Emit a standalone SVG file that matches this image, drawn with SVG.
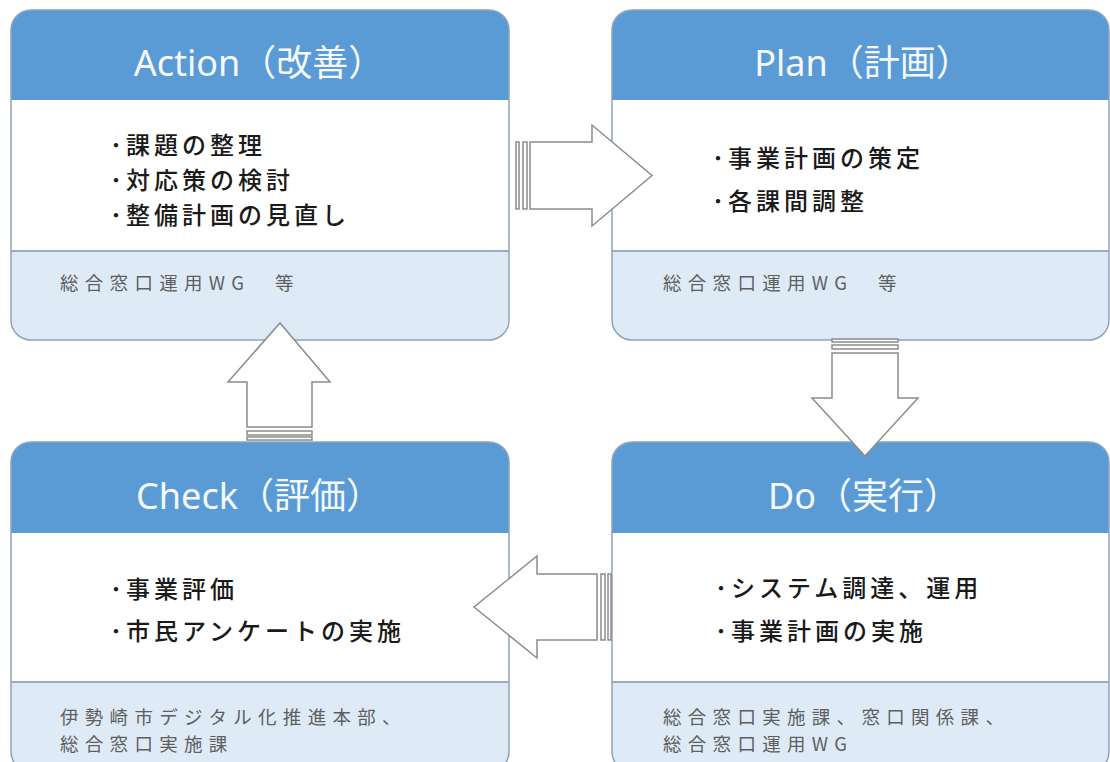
<svg xmlns="http://www.w3.org/2000/svg" width="1110" height="762" viewBox="0 0 1110 762">
  <style>
    .hdr { fill: #5B9BD5; }
    .body { fill: #FFFFFF; }
    .ftr { fill: #DEEBF7; }
    .outline { fill: none; stroke: #8FA3BA; stroke-width: 1.5; }
    .div { stroke: #7F93AC; stroke-width: 1.5; }
    .title { font-family: "Noto Sans", "Noto Sans CJK JP", sans-serif; font-size: 36px; fill: #F4FAFF; text-anchor: middle; }
    .item { font-family: "Noto Sans CJK JP", sans-serif; font-size: 24px; font-weight: 500; fill: #1A1A1A; letter-spacing: 4px; }
    .note { font-family: "Noto Sans CJK JP", sans-serif; font-size: 18.5px; fill: #5F5F5F; letter-spacing: 6.3px; }
    .arrow { fill: #FFFFFF; stroke: #8C8C8C; stroke-width: 1.5; stroke-linejoin: miter; }
  </style>
  <rect width="1110" height="762" fill="#FFFFFF"/>

  <g id="action">
    <path class="hdr" d="M11,30 a20,20 0 0 1 20,-20 h458 a20,20 0 0 1 20,20 v70 h-498 z"/>
    <rect class="body" x="11" y="100" width="498" height="151"/>
    <path class="ftr" d="M11,251 h498 v69 a20,20 0 0 1 -20,20 h-458 a20,20 0 0 1 -20,-20 z"/>
    <line class="div" x1="11" y1="251" x2="509" y2="251"/>
    <rect class="outline" x="11" y="10" width="498" height="330" rx="20"/>
    <text class="title" x="259" y="76">Action（改善）</text>
    <text class="item" x="110" y="154">･課題の整理</text>
    <text class="item" x="110" y="189">･対応策の検討</text>
    <text class="item" x="110" y="224">･整備計画の見直し</text>
    <text class="note" x="60" y="290">総合窓口運用WG　等</text>
  </g>

  <g id="plan">
    <path class="hdr" d="M612,30 a20,20 0 0 1 20,-20 h457 a20,20 0 0 1 20,20 v70 h-497 z"/>
    <rect class="body" x="612" y="100" width="497" height="151"/>
    <path class="ftr" d="M612,251 h497 v69 a20,20 0 0 1 -20,20 h-457 a20,20 0 0 1 -20,-20 z"/>
    <line class="div" x1="612" y1="251" x2="1109" y2="251"/>
    <rect class="outline" x="612" y="10" width="497" height="330" rx="20"/>
    <text class="title" x="863" y="76">Plan（計画）</text>
    <text class="item" x="712" y="167">･事業計画の策定</text>
    <text class="item" x="712" y="210">･各課間調整</text>
    <text class="note" x="663" y="290">総合窓口運用WG　等</text>
  </g>

  <g id="check">
    <path class="hdr" d="M11,462 a20,20 0 0 1 20,-20 h458 a20,20 0 0 1 20,20 v71 h-498 z"/>
    <rect class="body" x="11" y="533" width="498" height="149"/>
    <path class="ftr" d="M11,682 h498 v70 a20,20 0 0 1 -20,20 h-458 a20,20 0 0 1 -20,-20 z"/>
    <line class="div" x1="11" y1="682" x2="509" y2="682"/>
    <rect class="outline" x="11" y="442" width="498" height="330" rx="20"/>
    <text class="title" x="259" y="509">Check（評価）</text>
    <text class="item" x="110" y="598">･事業評価</text>
    <text class="item" x="110" y="640">･市民アンケートの実施</text>
    <text class="note" x="60" y="724">伊勢崎市デジタル化推進本部、</text>
    <text class="note" x="60" y="751">総合窓口実施課</text>
  </g>

  <g id="do">
    <path class="hdr" d="M612,462 a20,20 0 0 1 20,-20 h457 a20,20 0 0 1 20,20 v71 h-497 z"/>
    <rect class="body" x="612" y="533" width="497" height="149"/>
    <path class="ftr" d="M612,682 h497 v70 a20,20 0 0 1 -20,20 h-457 a20,20 0 0 1 -20,-20 z"/>
    <line class="div" x1="612" y1="682" x2="1109" y2="682"/>
    <rect class="outline" x="612" y="442" width="497" height="330" rx="20"/>
    <text class="title" x="864" y="509">Do（実行）</text>
    <text class="item" x="715" y="597">･システム調達、運用</text>
    <text class="item" x="715" y="640">･事業計画の実施</text>
    <text class="note" x="663" y="724">総合窓口実施課、窓口関係課、</text>
    <text class="note" x="663" y="751">総合窓口運用WG</text>
  </g>

  <g id="connectors">
    <!-- Action -> Plan -->
    <rect class="arrow" x="516" y="142" width="3" height="67"/>
    <rect class="arrow" x="523" y="142" width="4" height="67"/>
    <polygon class="arrow" points="530,142 592,142 592,125 652,175.5 592,226 592,209 530,209"/>
    <!-- Plan -> Do -->
    <rect class="arrow" x="832" y="339" width="66" height="3"/>
    <rect class="arrow" x="832" y="345" width="66" height="4"/>
    <polygon class="arrow" points="832,353 898,353 898,398 918,398 865,456 812,398 832,398"/>
    <!-- Do -> Check -->
    <rect class="arrow" x="608" y="574" width="3" height="66"/>
    <rect class="arrow" x="601" y="574" width="4" height="66"/>
    <polygon class="arrow" points="597,574 537,574 537,556 474,607 537,658 537,640 597,640"/>
    <!-- Check -> Action -->
    <rect class="arrow" x="247" y="437" width="65" height="3"/>
    <rect class="arrow" x="247" y="431" width="65" height="4"/>
    <polygon class="arrow" points="247,427 247,382 228,382 280,323 330,382 312,382 312,427"/>
  </g>
</svg>
